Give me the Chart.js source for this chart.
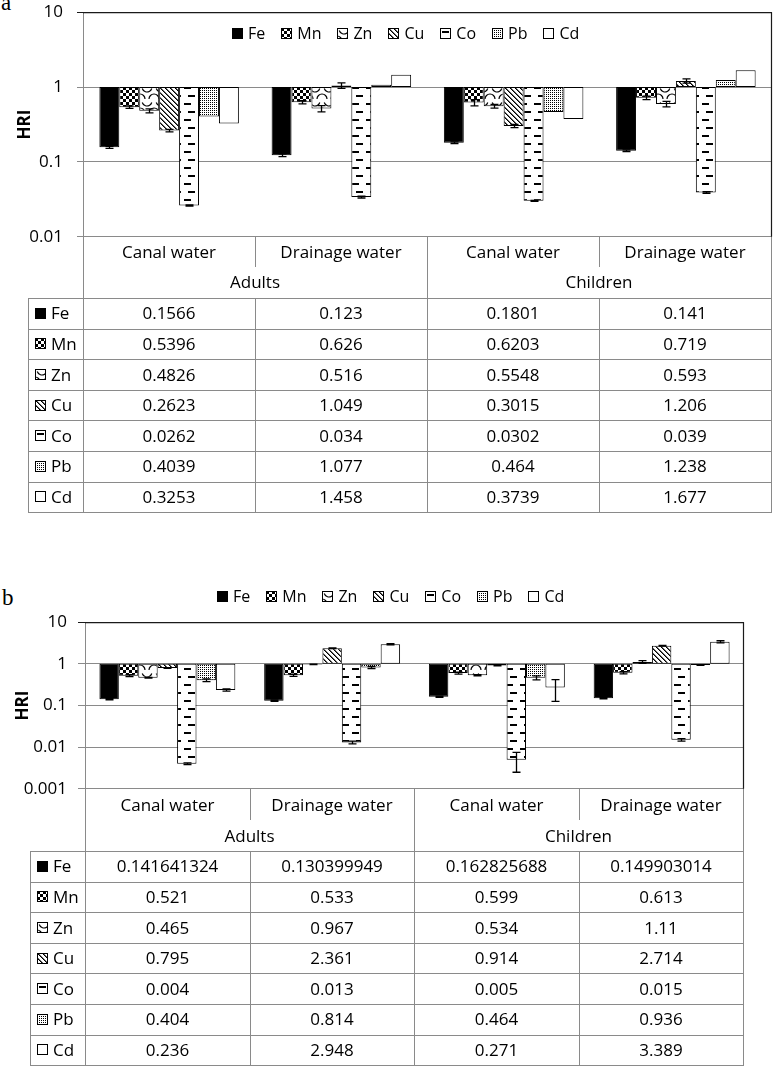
<!DOCTYPE html>
<html>
<head>
<meta charset="utf-8">
<script src="https://cdn.jsdelivr.net/npm/chart.js@4.4.0/dist/chart.umd.min.js"></script>
<style>
  body { margin: 0; background: #fff; font-family: 'Open Sans', sans-serif; }
  #page { position: relative; width: 774px; height: 1067px; overflow: hidden; background: #fff; }
  canvas.chart { position: absolute; left: 0; }
  .hl { position: absolute; height: 1px; background: #8a8a8a; }
  .vl { position: absolute; width: 1px; background: #8a8a8a; }
  .txt { position: absolute; font-size: 17px; line-height: 20px; color: #000; text-align: center; white-space: nowrap; }
  .rowlbl { position: absolute; font-size: 17px; line-height: 20px; display: flex; align-items: center; }
  .rowlbl canvas, .legend canvas { display: block; }
  .legend { position: absolute; display: flex; align-items: center; font-size: 16px; line-height: 20px; }
  .legend .item { display: flex; align-items: center; margin-right: 16px; }
  .legend .item span, .rowlbl span { margin-left: 5px; }
  .plabel { position: absolute; font-family: 'Liberation Serif', serif; font-size: 23px; line-height: 23px; }
</style>
</head>
<body>
<div id="page">
  <div class="plabel" style="left:1px;top:-9px">a</div>
  <div class="plabel" style="left:2px;top:586px">b</div>
  <canvas id="chartA" class="chart" width="774" height="249" style="top:0px"></canvas>
  <canvas id="chartB" class="chart" width="774" height="191" style="top:610px"></canvas>
</div>
<script>
const elements = ['Fe', 'Mn', 'Zn', 'Cu', 'Co', 'Pb', 'Cd'];
const waters = ['Canal water', 'Drainage water', 'Canal water', 'Drainage water'];
const groups = ['Adults', 'Children'];
const yTicksA = [0.01, 0.1, 1, 10];
const yTicksB = [0.001, 0.01, 0.1, 1, 10];

// panel a -- columns: adults canal, adults drainage, children canal, children drainage
const aFe = [0.1566, 0.123, 0.1801, 0.141];
const aMn = [0.5396, 0.626, 0.6203, 0.719];
const aZn = [0.4826, 0.516, 0.5548, 0.593];
const aCu = [0.2623, 1.049, 0.3015, 1.206];
const aCo = [0.0262, 0.034, 0.0302, 0.039];
const aPb = [0.4039, 1.077, 0.464, 1.238];
const aCd = [0.3253, 1.458, 0.3739, 1.677];
// error bars
const aFeErr = [0.005, 0.005, 0.005, 0.004];
const aMnErr = [0.02, 0.03, 0.06, 0.04];
const aZnErr = [0.03, 0.05, 0.03, 0.05];
const aCuErr = [0.01, 0.09, 0.015, 0.08];
const aCoErr = [0.0005, 0.001, 0.0005, 0.001];
const aPbErr = [0, 0, 0, 0];
const aCdErr = [0, 0, 0, 0];

// panel b
const bFe = [0.141641324, 0.130399949, 0.162825688, 0.149903014];
const bMn = [0.521, 0.533, 0.599, 0.613];
const bZn = [0.465, 0.967, 0.534, 1.11];
const bCu = [0.795, 2.361, 0.914, 2.714];
const bCo = [0.004, 0.013, 0.005, 0.015];
const bPb = [0.404, 0.814, 0.464, 0.936];
const bCd = [0.236, 2.948, 0.271, 3.389];
const bFeErr = [0.005, 0.005, 0.006, 0.005];
const bMnErr = [0.03, 0.03, 0.03, 0.04];
const bZnErr = [0.01, 0.01, 0.02, 0.08];
const bCuErr = [0.01, 0.05, 0.02, 0.05];
const bCoErr = [0.0002, 0.001, 0.0025, 0.001];
const bPbErr = [0.03, 0.05, 0.05, 0.02];
const bCdErr = [0.015, 0.1, 0.145, 0.2];

// ---- fill patterns ----
function tile(w, h, draw) {
  const c = document.createElement('canvas');
  c.width = w; c.height = h;
  const g = c.getContext('2d');
  g.fillStyle = '#fff';
  g.fillRect(0, 0, w, h);
  g.fillStyle = '#000';
  g.strokeStyle = '#000';
  draw(g);
  return c;
}
const pctx = document.createElement('canvas').getContext('2d');
function pat(c) { return pctx.createPattern(c, 'repeat'); }

const fills = [
  '#000',
  pat(tile(6, 6, g => { g.fillRect(0, 0, 3, 3); g.fillRect(3, 3, 3, 3); })),
  pat(tile(14, 14, g => {
    g.lineWidth = 1.2;
    g.beginPath(); g.arc(7, 1, 5, 0.1 * Math.PI, 0.9 * Math.PI); g.stroke();
    g.beginPath(); g.arc(0, 13, 5, 1.5 * Math.PI, 2 * Math.PI); g.stroke();
    g.beginPath(); g.arc(14, 13, 5, Math.PI, 1.5 * Math.PI); g.stroke();
  })),
  pat(tile(5, 5, g => { for (let i = 0; i < 5; i++) { g.fillRect(i, i, 1, 1); g.fillStyle = '#666'; g.fillRect((i + 1) % 5, i, 1, 1); g.fillStyle = '#000'; } })),
  pat(tile(14, 16, g => { g.fillRect(2, 3, 7, 2); g.fillRect(6, 11, 7, 2); })),
  pat(tile(2, 2, g => { g.fillRect(0, 0, 1, 1); })),
  '#fff'
];

function icon(fill) {
  const c = document.createElement('canvas');
  c.width = 11; c.height = 11;
  const g = c.getContext('2d');
  g.fillStyle = fill;
  g.fillRect(0, 0, 11, 11);
  g.strokeStyle = '#000';
  g.lineWidth = 1;
  g.strokeRect(0.5, 0.5, 10, 10);
  return c;
}

// ---- plugins ----
const errorBars = {
  id: 'errorBars',
  afterDatasetsDraw(chart) {
    const { ctx } = chart;
    const y = chart.scales.y;
    ctx.save();
    ctx.strokeStyle = '#000';
    ctx.lineWidth = 1.3;
    chart.data.datasets.forEach((ds, i) => {
      chart.getDatasetMeta(i).data.forEach((bar, j) => {
        const e = ds.errors[j];
        if (!e) return;
        const v = ds.data[j][1];
        const y1 = y.getPixelForValue(v + e);
        const y2 = y.getPixelForValue(Math.max(v - e, 1e-6));
        const x = Math.round(bar.x) + 0.5;
        ctx.beginPath();
        ctx.moveTo(x, y1); ctx.lineTo(x, y2);
        ctx.moveTo(x - 4, y1); ctx.lineTo(x + 4, y1);
        ctx.moveTo(x - 4, y2); ctx.lineTo(x + 4, y2);
        ctx.stroke();
      });
    });
    ctx.restore();
  }
};

const frame = {
  id: 'frame',
  afterDraw(chart) {
    const { ctx, chartArea: a } = chart;
    ctx.save();
    ctx.strokeStyle = '#1a1a1a';
    ctx.lineWidth = 1.2;
    ctx.beginPath();
    ctx.moveTo(a.left, a.top + 0.5); ctx.lineTo(a.right, a.top + 0.5);
    ctx.moveTo(a.right - 0.5, a.top); ctx.lineTo(a.right - 0.5, a.bottom);
    ctx.stroke();
    ctx.restore();
  }
};

Chart.defaults.font.family = "'Open Sans', sans-serif";
Chart.defaults.font.size = 17;
Chart.defaults.color = '#000';

function makeChart(id, series, errs, ticks, o) {
  return new Chart(document.getElementById(id), {
    type: 'bar',
    data: {
      labels: waters,
      datasets: elements.map((el, i) => ({
        label: el,
        data: series[i].map(v => [1, v]),
        errors: errs[i],
        backgroundColor: fills[i],
        borderColor: '#000',
        borderWidth: 1,
        borderSkipped: false,
        categoryPercentage: o.catPct,
        barPercentage: 1
      }))
    },
    options: {
      responsive: false,
      maintainAspectRatio: false,
      animation: false,
      layout: { padding: { left: 0, right: o.padRight, top: 12, bottom: 12 } },
      plugins: { legend: { display: false }, tooltip: { enabled: false } },
      scales: {
        x: { display: false, grid: { display: false } },
        y: {
          type: 'logarithmic',
          min: ticks[0],
          max: ticks[ticks.length - 1],
          afterBuildTicks: s => { s.ticks = ticks.map(v => ({ value: v, major: true })); },
          afterFit: s => { s.width = o.axisW; },
          ticks: { autoSkip: false, padding: o.tickPad, callback: v => String(v) },
          grid: {
            color: c => (c.tick && c.tick.value === ticks[ticks.length - 1]) ? '#1a1a1a' : '#8a8a8a',
            tickLength: o.tickLen,
            lineWidth: 1
          },
          border: { color: '#8a8a8a' },
          title: { display: true, text: 'HRI', font: { size: 17, weight: 'bold' }, padding: { top: o.titlePad, bottom: 0 } }
        }
      }
    },
    plugins: [errorBars, frame]
  });
}

// build a chart, then fix canvas height/top so the plot area lands on [top, bottom] of the page
function placeChart(id, top, bottom, series, errs, ticks, o) {
  const cv = document.getElementById(id);
  let ch = makeChart(id, series, errs, ticks, o);
  const a = ch.chartArea;
  const h = Math.round(ch.height + (bottom - top) - (a.bottom - a.top));
  ch.destroy();
  cv.width = 774; cv.height = h;
  cv.style.width = '774px'; cv.style.height = h + 'px';
  ch = makeChart(id, series, errs, ticks, o);
  const off = top - ch.chartArea.top;
  cv.style.top = off + 'px';
  return { chart: ch, top: off };
}

const A = placeChart('chartA', 12, 237,
  [aFe, aMn, aZn, aCu, aCo, aPb, aCd],
  [aFeErr, aMnErr, aZnErr, aCuErr, aCoErr, aPbErr, aCdErr],
  yTicksA, { axisW: 83, padRight: 2, tickLen: 6, tickPad: 14, titlePad: 15, catPct: 0.81 });

const B = placeChart('chartB', 622, 789,
  [bFe, bMn, bZn, bCu, bCo, bPb, bCd],
  [bFeErr, bMnErr, bZnErr, bCuErr, bCoErr, bPbErr, bCdErr],
  yTicksB, { axisW: 85, padRight: 30, tickLen: 7, tickPad: 11, titlePad: 13, catPct: 0.825 });

// ---- legend + table below each chart ----
const page = document.getElementById('page');
function add(cls, style, text) {
  const d = document.createElement('div');
  d.className = cls;
  Object.assign(d.style, style);
  if (text !== undefined) d.textContent = text;
  page.appendChild(d);
  return d;
}
function px(v) { return v + 'px'; }

function legend(x, yc) {
  const lg = add('legend', { left: px(x), top: px(yc - 10) });
  elements.forEach((el, i) => {
    const it = document.createElement('div');
    it.className = 'item';
    it.appendChild(icon(fills[i]));
    const s = document.createElement('span');
    s.textContent = el;
    it.appendChild(s);
    lg.appendChild(it);
  });
}

function table(chart, canvasTop, series, o) {
  const a = chart.chartArea;
  const x0 = Math.round(a.left), x4 = Math.round(a.right) - 1;
  const cw = (x4 - x0) / 4;
  const xs = [0, 1, 2, 3, 4].map(k => Math.round(x0 + k * cw));
  const yAxis = Math.round(canvasTop + a.bottom);
  const yTop = o.yTop;
  const yBot = Math.round(yTop + o.rowH * elements.length);

  // vertical rules
  add('vl', { left: px(xs[0]), top: px(yAxis), height: px(yBot - yAxis + 1) });
  add('vl', { left: px(xs[2]), top: px(yAxis), height: px(yBot - yAxis + 1) });
  add('vl', { left: px(xs[4]), top: px(yAxis), height: px(yBot - yAxis + 1) });
  [1, 3].forEach(k => {
    add('vl', { left: px(xs[k]), top: px(yAxis), height: px(o.yCat - yAxis) });
    add('vl', { left: px(xs[k]), top: px(yTop), height: px(yBot - yTop + 1) });
  });
  add('vl', { left: px(o.xLeft), top: px(yTop), height: px(yBot - yTop + 1) });

  // horizontal rules
  for (let r = 0; r <= elements.length; r++) {
    const y = Math.round(yTop + o.rowH * r);
    add('hl', { left: px(o.xLeft), top: px(y), width: px(xs[4] - o.xLeft + 1) });
  }

  // header text
  waters.forEach((w, k) => {
    add('txt', { left: px(xs[k]), width: px(xs[k + 1] - xs[k]), top: px(o.catY - 10) }, w);
  });
  groups.forEach((g, k) => {
    add('txt', { left: px(xs[2 * k]), width: px(xs[2 * k + 2] - xs[2 * k]), top: px(o.groupY - 10) }, g);
  });

  // rows
  elements.forEach((el, i) => {
    const yc = yTop + o.rowH * (i + 0.5);
    const rl = add('rowlbl', { left: px(o.xLeft + 7), top: px(yc - 10), height: '20px' });
    rl.appendChild(icon(fills[i]));
    const s = document.createElement('span');
    s.textContent = el;
    rl.appendChild(s);
    series[i].forEach((v, k) => {
      add('txt', { left: px(xs[k]), width: px(xs[k + 1] - xs[k]), top: px(yc - 10) }, String(v));
    });
  });
}

legend(232, 33);
legend(217, 596);
table(A.chart, A.top, [aFe, aMn, aZn, aCu, aCo, aPb, aCd],
  { xLeft: 28, yCat: 267, yTop: 298, rowH: 30.6, catY: 252, groupY: 282 });
table(B.chart, B.top, [bFe, bMn, bZn, bCu, bCo, bPb, bCd],
  { xLeft: 30, yCat: 820, yTop: 851, rowH: 30.6, catY: 805, groupY: 836 });
</script>
</body>
</html>
